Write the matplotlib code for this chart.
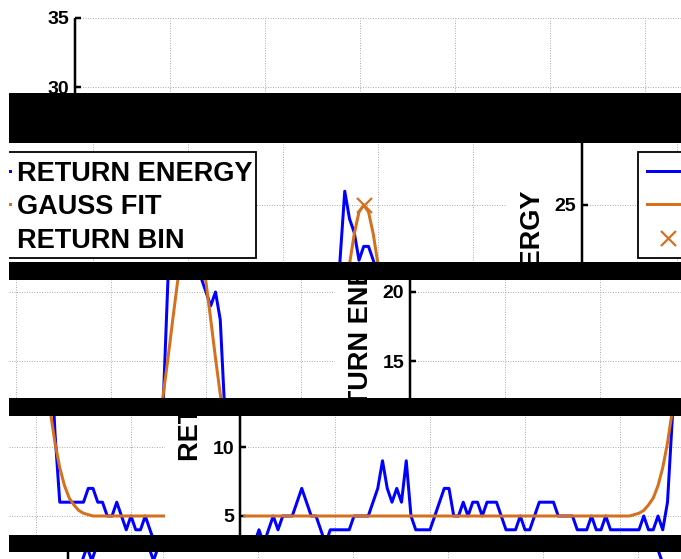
import matplotlib
matplotlib.use('Agg')
import matplotlib.pyplot as plt
from matplotlib.patches import Rectangle
from matplotlib.transforms import offset_copy

plt.rcParams['font.family'] = ['Liberation Sans', 'DejaVu Sans']

# ---- data ----
bins = list(range(1, 129))
return_energy = [2, 2, 3, 4, 3, 4, 5, 4, 5, 5,
                 5, 6, 7, 6, 5, 5, 4, 3, 4, 4,
                 4, 4, 4, 5, 5, 5, 5, 6, 7, 9,
                 7, 6, 7, 6, 9, 5, 4, 4, 4, 4,
                 5, 6, 7, 7, 5, 5, 6, 5, 6, 6,
                 5, 6, 6, 6, 5, 4, 4, 4, 5, 4,
                 4, 5, 6, 6, 6, 6, 5, 5, 5, 5,
                 4, 4, 4, 5, 4, 4, 5, 4, 4, 4,
                 4, 4, 4, 4, 5, 4, 4, 5, 4, 6,
                 12, 21, 26, 24, 23, 21, 22, 22, 21, 20,
                 19, 20, 18, 11, 6, 6, 6, 6, 6, 6,
                 7, 7, 6, 6, 5, 5, 6, 5, 4, 5,
                 4, 4, 5, 4, 3, 3, 3, 3]
gauss_fit = ([5.0] * 82 +
             [5.1, 5.2, 5.4, 5.8, 6.3, 7.2, 8.5, 10.3, 12.6, 15.2,
              18.0, 20.7, 22.9, 24.5, 25.0, 24.5, 22.9, 20.7, 18.0, 15.2,
              12.6, 10.3, 8.5, 7.2, 6.3, 5.8, 5.4, 5.2, 5.1] +
             [5.0] * 17)
peak_bin = [97]
peak_energy = [25.0]
y_ticks = [5, 10, 15, 20, 25, 30, 35]
x_grid = [20, 40, 60, 80, 100, 120]
x_max = 128
y_label = 'RETURN ENERGY'
legend_labels = ['RETURN ENERGY', 'GAUSS FIT', 'RETURN BIN']

BLUE = '#0000ff'
ORANGE = '#d5701f'
GRID = '#b0b0b0'

W, H = 681, 559
# untouched plot: origin of the axes at (75, 501) px, 4.75 px per bin, 13.8 px per unit
AX_X0, AX_Y0 = 75, 501
PX_X, PX_Y = 4.75, 13.8
PERIOD = 679   # rows wrap round after this many pixels
LEFT = 9       # white margin on the left

# torn screen: (top, bottom, rows pushed down, columns shifted right)
strips = [(0, 93, 0, 0), (143, 262, 49, 507), (280, 398, 67, 335),
          (416, 535, 84, 165), (552, 559, 101, 672)]
bars = [(93, 143), (262, 280), (398, 416), (535, 552)]


def to_x(u):
    return (u - AX_X0) / PX_X


def to_y(r):
    return (AX_Y0 - r) / PX_Y


def pt(px):
    return px * 0.72


fig = plt.figure(figsize=(W / 100, H / 100), dpi=100)


def draw_plot(ax):
    dots = (0, (1, 1.5))
    ax.hlines(y_ticks, 0, x_max, colors=GRID, linewidth=pt(1), linestyles=[dots], zorder=1)
    ax.vlines(x_grid, 0, y_ticks[-1], colors=GRID, linewidth=pt(1), linestyles=[dots], zorder=1)
    # y axis with inward ticks
    ax.vlines(0, 0, y_ticks[-1], colors='black', linewidth=pt(2.5), zorder=3)
    ax.hlines(y_ticks, 0, 6 / PX_X, colors='black', linewidth=pt(2.5), zorder=3)
    lab = offset_copy(ax.transData, fig=fig, x=-6, y=0, units='dots')
    for v in y_ticks:
        ax.text(0, v, str(v), transform=lab, ha='right', va='center_baseline',
                fontsize=14, fontweight='bold', clip_on=True)
    ylab = offset_copy(ax.transData, fig=fig, x=-42, y=0, units='dots')
    ax.text(0, y_ticks[-1] / 2, y_label, transform=ylab, rotation=90, rotation_mode='anchor',
            ha='center', va='baseline', fontsize=19.5, fontweight='bold', clip_on=True)

    ax.plot(bins, return_energy, color=BLUE, lw=pt(3), zorder=4)
    ax.plot(bins, gauss_fit, color=ORANGE, lw=pt(3), zorder=5)
    ax.plot(peak_bin, peak_energy, ls='none', marker='x', color=ORANGE,
            ms=pt(15), mew=pt(2.2), zorder=6)

    # legend, upper left inside the axes
    bx0, bx1 = to_x(131), to_x(428)
    by0, by1 = to_y(209), to_y(103)
    ax.add_patch(Rectangle((bx0, by0), bx1 - bx0, by1 - by0, facecolor='white',
                           edgecolor='black', lw=pt(1.8), zorder=7))
    rows = [to_y(r) for r in (122, 155, 189)]
    ax.plot([to_x(140), to_x(182)], [rows[0]] * 2, color=BLUE, lw=pt(3), zorder=8)
    ax.plot([to_x(140), to_x(182)], [rows[1]] * 2, color=ORANGE, lw=pt(3), zorder=8)
    ax.plot([to_x(161)], [rows[2]], ls='none', marker='x', color=ORANGE,
            ms=pt(15), mew=pt(2.2), zorder=8)
    for yy, text in zip(rows, legend_labels):
        ax.text(to_x(189), yy, text, ha='left', va='center_baseline', fontsize=19.5,
                fontweight='bold', clip_on=True, zorder=8)


for top, bottom, drop, shift in strips:
    pieces = [(max(LEFT, shift), W, 0)]
    if shift > LEFT:
        pieces.append((LEFT, shift, -PERIOD))
    for left, right, c in pieces:
        ax = fig.add_axes([left / W, 1 - bottom / H, (right - left) / W, (bottom - top) / H])
        ax.axis('off')
        ax.set_xlim(to_x(left - shift - c), to_x(right - shift - c))
        ax.set_ylim(to_y(bottom - drop), to_y(top - drop))
        draw_plot(ax)

for top, bottom in bars:
    fig.add_artist(Rectangle((LEFT / W, 1 - bottom / H), (W - LEFT) / W, (bottom - top) / H,
                             transform=fig.transFigure, facecolor='black', edgecolor='none'))

# drop the copies of texts that fall wholly outside their strip
fig.canvas.draw()
renderer = fig.canvas.get_renderer()
for ax in fig.axes:
    for t in list(ax.texts):
        if not t.get_window_extent(renderer).overlaps(ax.bbox):
            t.remove()

fig.savefig('out.png', dpi=100)
